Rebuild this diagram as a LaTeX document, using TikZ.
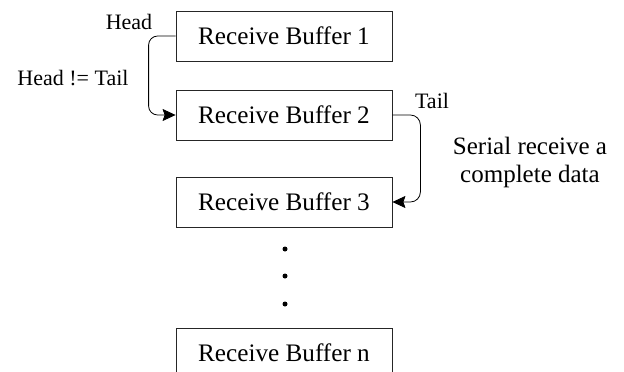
\documentclass[tikz,border=0pt]{standalone}
\usepackage{fontspec}
\setmainfont{Liberation Serif}
\usetikzlibrary{arrows.meta}
\tikzset{
  bufbox/.style={draw=black!85, line width=0.8pt, minimum width=216pt, minimum height=50pt, inner sep=0pt, font=\fontsize{25.2}{30}\selectfont},
  smalllab/.style={inner sep=0pt, font=\fontsize{22}{26}\selectfont},
  biglab/.style={inner sep=0pt, align=center, font=\fontsize{25}{28}\selectfont},
  conn/.style={line width=0.8pt, -{Stealth[length=13pt,width=12pt,inset=2pt]}},
  dotmark/.style={circle, fill=black, inner sep=0pt, minimum size=5pt}
}
\begin{document}
\begin{tikzpicture}[x=1pt,y=-1pt]
\useasboundingbox (0,0) rectangle (624,372);
\node[bufbox] (b1) at (284,36) {Receive Buffer 1};
\node[bufbox] (b2) at (284,115) {Receive Buffer 2};
\node[bufbox] (b3) at (284,202) {Receive Buffer 3};
\node[bufbox] (bn) at (284,353) {Receive Buffer n};
\node[dotmark] (d1) at (285,249) {};
\node[dotmark] (d2) at (285,276) {};
\node[dotmark] (d3) at (285,304) {};
\node[smalllab] (head) at (129,22) {Head};
\node[smalllab] (cond) at (73,78) {Head != Tail};
\node[smalllab] (tail) at (432,101) {Tail};
\node[biglab] (serial) at (530,162) {Serial receive a\\complete data};
\draw[conn, rounded corners=9pt] (b1.west) -- ++(-27,0) |- (b2.west);
\draw[conn, rounded corners=10pt] (b2.east) -- ++(28,0) |- (b3.east);
\end{tikzpicture}
\end{document}
